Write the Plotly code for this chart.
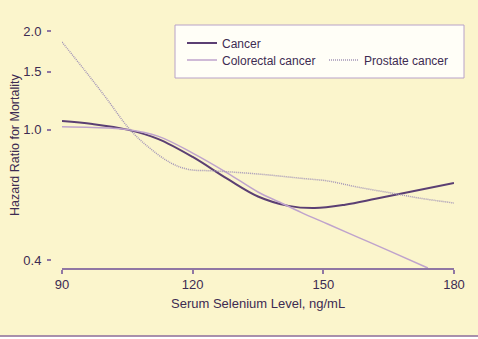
import numpy as np
import plotly.graph_objects as go

# ---- data ----
cancer_x = [90, 97, 105, 112, 120, 128, 135, 142, 148, 155, 162, 170, 180]
cancer_hr = [1.062, 1.04, 1.0, 0.937, 0.825, 0.707, 0.625, 0.585, 0.576, 0.59, 0.615, 0.646, 0.687]

colorectal_x = [90, 97, 105, 112, 120, 128, 135, 140, 145, 151, 158, 165, 174]
colorectal_hr = [1.02, 1.015, 1.0, 0.955, 0.848, 0.737, 0.645, 0.60, 0.558, 0.515, 0.469, 0.427, 0.378]

prostate_x = [90, 95, 100, 105.6, 110, 115, 119, 125, 135, 145, 151, 158, 166, 172, 180]
prostate_hr = [1.85, 1.53, 1.256, 1.0, 0.881, 0.791, 0.756, 0.748, 0.732, 0.71, 0.697, 0.667, 0.639, 0.618, 0.597]

x_ticks = [90, 120, 150, 180]
y_ticks = [0.4, 1.0, 1.5, 2.0]
y_ticktext = ["0.4", "1.0", "1.5", "2.0"]

W, H = 478, 339
BG = "#FBF5CC"
TXT = "#3d2b52"
AX = "#9077a3"
FONT = "Liberation Sans, Arial, sans-serif"


def px(x):
    return x / W


def py(y):
    return 1 - y / H


fig = go.Figure()
fig.add_trace(go.Scatter(x=cancer_x, y=cancer_hr, mode="lines", name="Cancer",
                         line=dict(color="#5b3f73", width=2, shape="spline"), legend="legend"))
fig.add_trace(go.Scatter(x=colorectal_x, y=colorectal_hr, mode="lines", name="Colorectal cancer",
                         line=dict(color="#bfa3cc", width=1.5, shape="spline"), legend="legend2"))
fig.add_trace(go.Scatter(x=prostate_x, y=prostate_hr, mode="lines", name="Prostate cancer",
                         line=dict(color="#a395b8", width=1.5, shape="spline", dash="1px,1px"),
                         legend="legend3"))

legend_common = dict(bgcolor="rgba(0,0,0,0)", borderwidth=0, font=dict(family=FONT, size=12, color=TXT),
                     xanchor="left", yanchor="middle", orientation="v", itemclick=False)

fig.update_layout(
    width=W, height=H,
    margin=dict(l=0, r=0, t=0, b=0),
    paper_bgcolor=BG, plot_bgcolor=BG,
    font=dict(family=FONT, size=13, color=TXT),
    legend=dict(x=px(182), y=py(43), **legend_common),
    legend2=dict(x=px(182), y=py(60), **legend_common),
    legend3=dict(x=px(324), y=py(60), **legend_common),
    xaxis=dict(domain=[px(62), px(454)], range=[90, 180], anchor="free", position=py(269),
               showline=True, linecolor=AX, linewidth=1.5, ticks="outside", ticklen=4,
               tickcolor=AX, tickwidth=1.5, tickvals=x_ticks, showgrid=False, zeroline=False,
               tickfont=dict(family=FONT, size=13, color=TXT), automargin=False),
    yaxis=dict(type="log", domain=[py(269), py(31)],
               range=[(129.6 - 269) / 327.6, np.log10(2.0)], anchor="free", position=px(51),
               showline=False, ticks="outside", ticklen=4, tickcolor=AX, tickwidth=1.5,
               tickvals=y_ticks, ticktext=y_ticktext, showgrid=False, zeroline=False,
               ticklabelstandoff=3,
               tickfont=dict(family=FONT, size=13, color=TXT), automargin=False),
    showlegend=True,
)

# y axis line spanning tick range only
fig.add_shape(type="line", xref="paper", yref="y", x0=px(51), x1=px(51),
              y0=np.log10(min(y_ticks)), y1=np.log10(max(y_ticks)),
              line=dict(color=AX, width=1.5))
# legend box
fig.add_shape(type="rect", xref="paper", yref="paper", x0=px(175), x1=px(464), y0=py(78), y1=py(25),
              fillcolor="#FFFEF7", line=dict(color="#b8a2c8", width=1), layer="below")
# bottom border
fig.add_shape(type="rect", xref="paper", yref="paper", x0=0, x1=1, y0=0, y1=py(336.5),
              fillcolor="#FFFFFF", line=dict(width=0), layer="above")
fig.add_shape(type="line", xref="paper", yref="paper", x0=0, x1=1, y0=py(336), y1=py(336),
              line=dict(color="#8c6c9c", width=1.5))

fig.add_annotation(text="Serum Selenium Level, ng/mL", xref="paper", yref="paper",
                   x=px(258), y=py(303), showarrow=False, xanchor="center", yanchor="middle",
                   font=dict(family=FONT, size=13, color=TXT))
fig.add_annotation(text="Hazard Ratio for Mortality", xref="paper", yref="paper",
                   x=px(15), y=py(145), showarrow=False, xanchor="center", yanchor="middle",
                   textangle=-90, font=dict(family=FONT, size=12.5, color=TXT))

fig.write_html("out.html")
